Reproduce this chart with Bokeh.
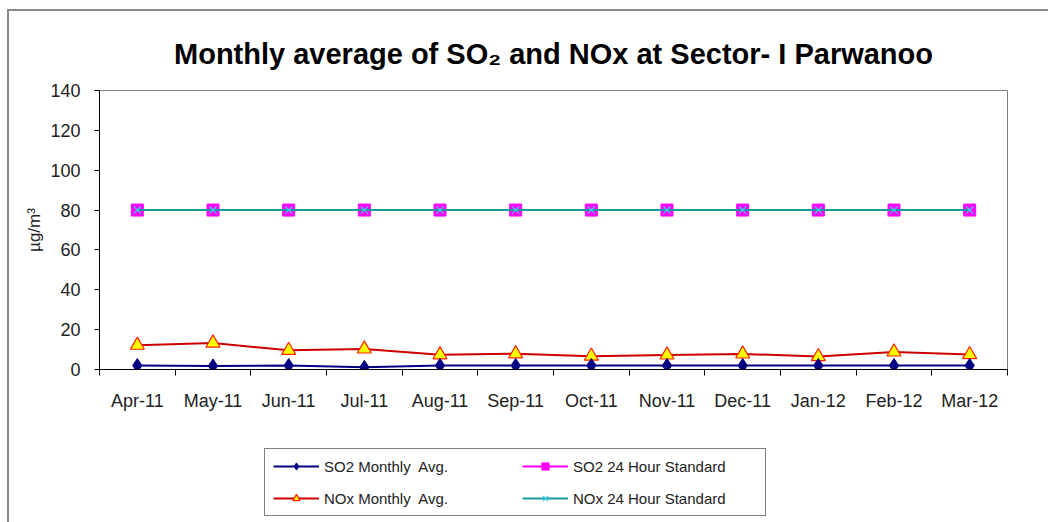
from bokeh.plotting import figure
from bokeh.layouts import column
from bokeh.models import FixedTicker, Legend, LegendItem, Range1d
from bokeh.embed import file_html
from bokeh.resources import INLINE

months = ["Apr-11", "May-11", "Jun-11", "Jul-11", "Aug-11", "Sep-11",
          "Oct-11", "Nov-11", "Dec-11", "Jan-12", "Feb-12", "Mar-12"]
so2_avg = [2.0, 1.8, 2.0, 1.1, 2.0, 2.0, 2.0, 2.0, 2.0, 2.0, 2.0, 2.0]
nox_avg = [12.2, 13.3, 9.6, 10.3, 7.4, 7.9, 6.7, 7.3, 7.8, 6.5, 8.8, 7.5]
so2_std = [80] * 12
nox_std = [80] * 12
y_ticks = [0, 20, 40, 60, 80, 100, 120, 140]

xs = list(range(1, len(months) + 1))
bounds = [i + 0.5 for i in range(len(months) + 1)]

FONT = "Liberation Sans"

STYLES = {
    "so2_avg": dict(line_color="#000080", marker="diamond", size=14,
                    fill_color="#000080", mline="#000080", lw=1),
    "so2_std": dict(line_color="#FF00FF", marker="square", size=12,
                    fill_color="#FF00FF", mline="#FF00FF", lw=1),
    "nox_avg": dict(line_color="#CC0000", marker="triangle", size=14,
                    fill_color="#FFFF00", mline="#FF2000", lw=1.2),
    "nox_std": dict(line_color="#179c9c", marker="x", size=10,
                    fill_color="#33CCFF", mline="#40C8F0", lw=1.3),
}


def draw(fig, key, x, y):
    s = STYLES[key]
    ln = fig.line(x, y, line_color=s["line_color"], line_width=2)
    mk = fig.scatter(x, y, marker=s["marker"], size=s["size"],
                     fill_color=s["fill_color"], line_color=s["mline"],
                     line_width=s["lw"])
    return [ln, mk]


p = figure(width=1039, height=419, x_range=Range1d(0.5, len(months) + 0.5),
           y_range=Range1d(0, 140), output_backend="svg", toolbar_location=None,
           min_border_left=90, min_border_right=41, min_border_top=79,
           min_border_bottom=61)

p.title.text = "Monthly average of SO\u2082 and NOx at Sector- I Parwanoo"
p.title.align = "center"
p.title.text_font = FONT
p.title.text_font_size = "29px"
p.title.text_font_style = "bold"
p.title.text_color = "black"
p.title.standoff = 42

p.xgrid.visible = False
p.ygrid.visible = False
p.outline_line_color = "#808080"
p.outline_line_width = 1

# y axis
p.yaxis.ticker = FixedTicker(ticks=y_ticks, minor_ticks=[])
p.yaxis.axis_line_color = "black"
p.yaxis.major_tick_line_color = "black"
p.yaxis.major_tick_out = 5
p.yaxis.major_tick_in = 0
p.yaxis.major_label_text_font = FONT
p.yaxis.major_label_text_font_size = "18px"
p.yaxis.major_label_text_color = "#222222"
p.yaxis.major_label_standoff = 14
p.yaxis.axis_label = "\u00b5g/m\u00b3"
p.yaxis.axis_label_text_font = FONT
p.yaxis.axis_label_text_font_size = "17px"
p.yaxis.axis_label_text_font_style = "normal"
p.yaxis.axis_label_text_color = "#222222"
p.yaxis.axis_label_standoff = 3

# x axis
p.xaxis.ticker = FixedTicker(ticks=xs, minor_ticks=bounds)
p.xaxis.major_label_overrides = {x: m for x, m in zip(xs, months)}
p.xaxis.axis_line_color = "black"
p.xaxis.major_tick_out = 0
p.xaxis.major_tick_in = 0
p.xaxis.minor_tick_out = 6
p.xaxis.minor_tick_in = 0
p.xaxis.minor_tick_line_color = "black"
p.xaxis.major_label_text_font = FONT
p.xaxis.major_label_text_font_size = "18px"
p.xaxis.major_label_text_color = "#222222"
p.xaxis.major_label_standoff = 15

draw(p, "so2_std", xs, so2_std)
draw(p, "nox_std", xs, nox_std)
draw(p, "nox_avg", xs, nox_avg)
draw(p, "so2_avg", xs, so2_avg)

# legend panel: a separate figure below the chart whose view range lies
# outside the data, so only the legend is visible
q = figure(width=1039, height=92, x_range=Range1d(-20, -19), y_range=Range1d(-20, -19),
           output_backend="svg", toolbar_location=None, min_border=0)
q.axis.visible = False
q.grid.visible = False
q.outline_line_color = None

leg_r = {
    "so2_avg": draw(q, "so2_avg", xs, so2_avg),
    "so2_std": draw(q, "so2_std", xs, so2_std),
    "nox_avg": draw(q, "nox_avg", xs, nox_avg),
    "nox_std": draw(q, "nox_std", xs, nox_std),
}

legend = Legend(items=[
    LegendItem(label="SO2 Monthly  Avg.", renderers=leg_r["so2_avg"]),
    LegendItem(label="NOx Monthly  Avg.", renderers=leg_r["nox_avg"]),
    LegendItem(label="SO2 24 Hour Standard", renderers=leg_r["so2_std"]),
    LegendItem(label="NOx 24 Hour Standard", renderers=leg_r["nox_std"]),
], ncols=2, location=(165, 6))
legend.border_line_color = "black"
legend.border_line_width = 1
legend.background_fill_alpha = 1
legend.label_text_font = FONT
legend.label_text_font_size = "15px"
legend.label_text_color = "#222222"
legend.label_width = 184
legend.glyph_width = 46
legend.glyph_height = 18
legend.label_standoff = 5
legend.spacing = 14
legend.padding = 8
legend.margin = 0
q.add_layout(legend, "center")

layout = column(p, q, spacing=0)
layout.margin = (9, 0, 0, 7)
layout.styles = {"border-top": "2px solid #8a8a8a", "border-left": "2px solid #8a8a8a"}

open("out.html", "w").write(file_html(layout, INLINE))
